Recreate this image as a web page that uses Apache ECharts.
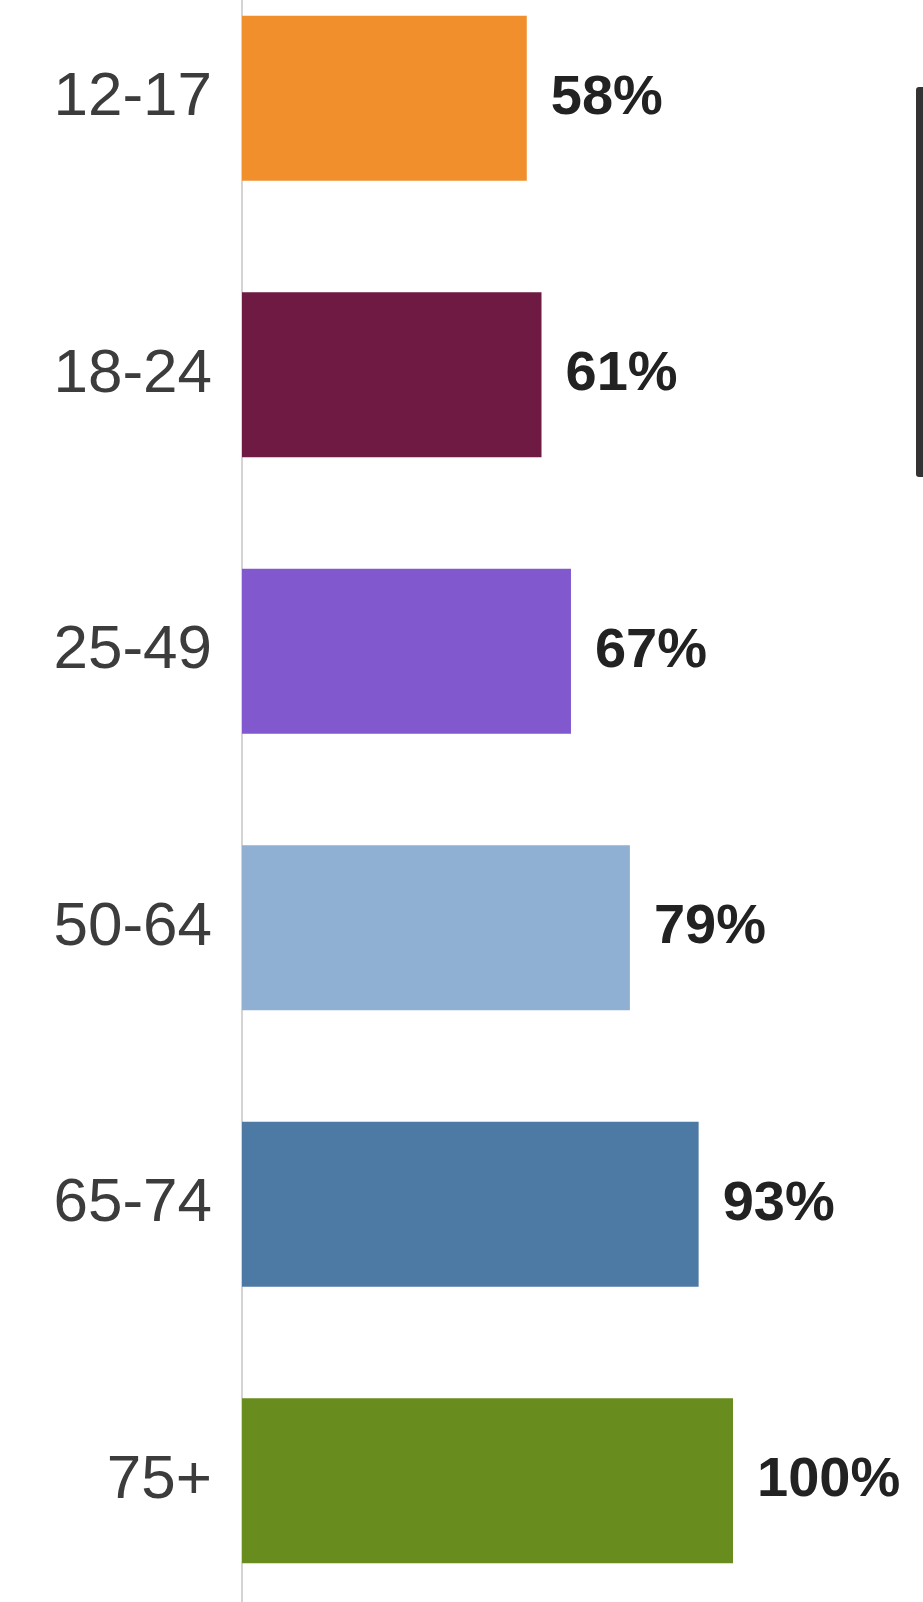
<!DOCTYPE html>
<html>
<head>
<meta charset="utf-8">
<script src="https://cdn.jsdelivr.net/npm/echarts@6/dist/echarts.min.js"></script>
<style>
  html, body { margin: 0; padding: 0; background: #fff; }
  #chart { width: 923px; height: 1602px; }
</style>
</head>
<body>
<div id="chart"></div>
<script>
// age groups, top to bottom
const ageGroups = ['12-17', '18-24', '25-49', '50-64', '65-74', '75+'];
const percents = [58, 61, 67, 79, 93, 100];
const barColors = ['#F08F2C', '#6E1A42', '#8258CF', '#8FAFD3', '#4D79A5', '#688D1E'];

const myChart = echarts.init(document.getElementById('chart'));

const seriesData = percents.map((v, i) => {
  return {
    value: v,
    itemStyle: { color: barColors[i] }
  };
});

const option = {
  backgroundColor: '#fff',
  animation: false,
  grid: {
    left: 242,
    right: 190,
    top: -40,
    bottom: -17,
    outerBoundsMode: 'none'
  },
  xAxis: {
    type: 'value',
    min: 0,
    max: 100,
    show: false
  },
  yAxis: {
    type: 'category',
    data: ageGroups,
    inverse: true,
    axisLine: { show: true, lineStyle: { color: '#d4d4d4', width: 2 } },
    axisTick: { show: false },
    axisLabel: {
      margin: 30,
      fontSize: 62,
      padding: [6, 0, 0, 0],
      color: '#3c3c3c',
      fontFamily: 'Arial, "Liberation Sans", sans-serif'
    }
  },
  series: [
    {
      type: 'bar',
      data: seriesData,
      barWidth: 165,
      label: {
        show: true,
        position: 'right',
        distance: 24,
        formatter: '{c}%',
        fontSize: 56,
        fontWeight: 'bold',
        color: '#222',
        fontFamily: 'Arial, "Liberation Sans", sans-serif'
      }
    }
  ],
  graphic: [
    {
      // dark scroll handle on the right edge
      type: 'rect',
      shape: { x: 916, y: 87, width: 8, height: 390, r: [3, 0, 0, 3] },
      style: { fill: '#333' }
    }
  ]
};

myChart.setOption(option);
</script>
</body>
</html>
